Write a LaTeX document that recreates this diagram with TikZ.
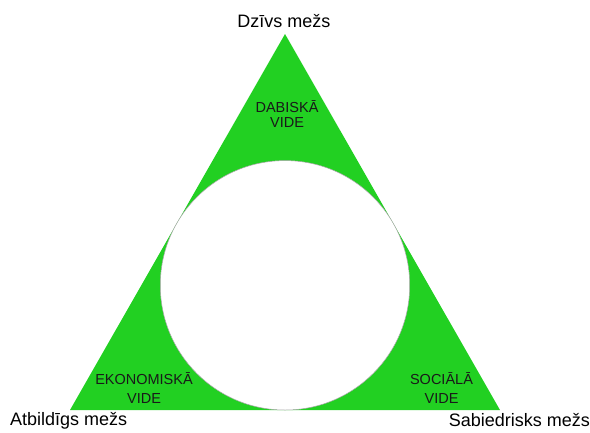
\documentclass[tikz,border=0pt]{standalone}
\usepackage{fontspec}
\setmainfont{Liberation Sans}
\definecolor{trigreen}{RGB}{34,208,34}
\definecolor{txtdark}{RGB}{25,25,25}
\begin{document}
\begin{tikzpicture}[x=1pt,y=-1pt,
  corner/.style={font=\fontsize{18}{20}\selectfont, text=black, inner sep=0pt},
  inlabel/.style={font=\fontsize{14.5}{15}\selectfont, text=txtdark, inner sep=0pt, anchor=base}]
\useasboundingbox (0,0) rectangle (590,432);
\coordinate (apex) at (285,34);
\coordinate (bl) at (70,410);
\coordinate (br) at (500,410);
\coordinate (cc) at (285,285.3);
\fill[trigreen] (apex) -- (bl) -- (br) -- cycle;
\node[circle, draw=gray!70, line width=0.5pt, fill=white, minimum size=249.4pt, inner sep=0pt] (circ) at (cc) {};
\node[corner, anchor=base] (top) at (284,27) {Dzīvs mežs};
\node[corner, anchor=base west] (left) at (10,425) {Atbildīgs mežs};
\node[corner, anchor=base east] (right) at (590,426) {Sabiedrisks mežs};
\node[inlabel] (d1) at (287,112) {DABISKĀ};
\node[inlabel] (d2) at (287,127) {VIDE};
\node[inlabel] (e1) at (144,384) {EKONOMISKĀ};
\node[inlabel] (e2) at (144,403) {VIDE};
\node[inlabel] (s1) at (441.5,384) {SOCIĀLĀ};
\node[inlabel] (s2) at (441.5,403) {VIDE};
\end{tikzpicture}
\end{document}
